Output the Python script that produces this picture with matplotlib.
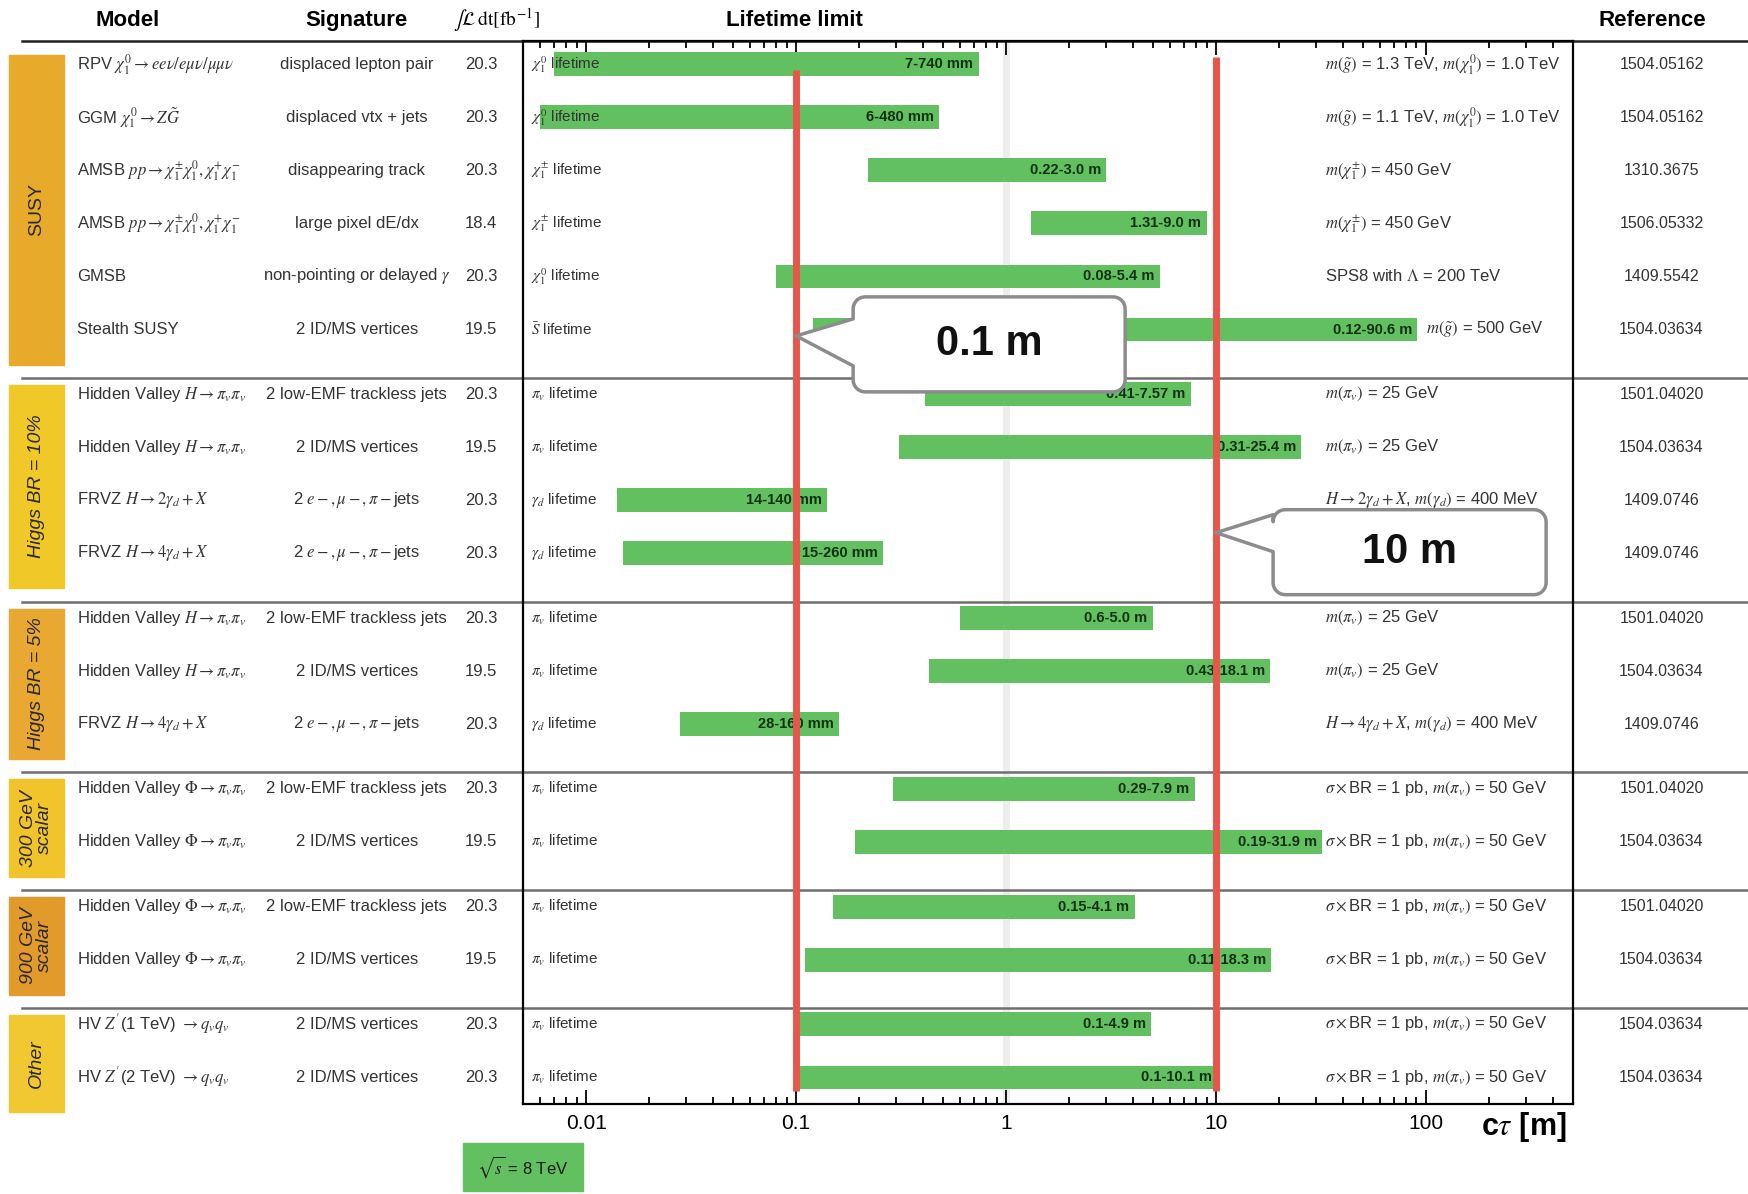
import numpy as np
import matplotlib
matplotlib.use("Agg")
import matplotlib.pyplot as plt
import matplotlib.transforms as mtransforms
from matplotlib.patches import Rectangle, Polygon
from matplotlib.lines import Line2D
from matplotlib.ticker import NullFormatter

plt.rcParams['font.family'] = ['Liberation Sans', 'DejaVu Sans']
plt.rcParams['mathtext.fontset'] = 'stix'

# ---- data ----
groups = ["SUSY", "Higgs BR = 10%", "Higgs BR = 5%", "300 GeV\nscalar", "900 GeV\nscalar", "Other"]
group_sizes = [6, 4, 3, 2, 2, 2]
group_colors = ["#e8aa2a", "#f0c828", "#e8a832", "#f2c42c", "#e29a2a", "#f2c832"]

models = [
    r"RPV $\chi_1^0 \rightarrow ee\nu/e\mu\nu/\mu\mu\nu$",
    r"GGM $\chi_1^0 \rightarrow Z\tilde{G}$",
    r"AMSB $pp \rightarrow \chi_1^{\pm}\chi_1^0, \chi_1^{+}\chi_1^{-}$",
    r"AMSB $pp \rightarrow \chi_1^{\pm}\chi_1^0, \chi_1^{+}\chi_1^{-}$",
    "GMSB",
    "Stealth SUSY",
    r"Hidden Valley $H \rightarrow \pi_v\pi_v$",
    r"Hidden Valley $H \rightarrow \pi_v\pi_v$",
    r"FRVZ $H \rightarrow 2\gamma_d + X$",
    r"FRVZ $H \rightarrow 4\gamma_d + X$",
    r"Hidden Valley $H \rightarrow \pi_v\pi_v$",
    r"Hidden Valley $H \rightarrow \pi_v\pi_v$",
    r"FRVZ $H \rightarrow 4\gamma_d + X$",
    r"Hidden Valley $\Phi \rightarrow \pi_v\pi_v$",
    r"Hidden Valley $\Phi \rightarrow \pi_v\pi_v$",
    r"Hidden Valley $\Phi \rightarrow \pi_v\pi_v$",
    r"Hidden Valley $\Phi \rightarrow \pi_v\pi_v$",
    r"HV $Z^{\prime}$(1 TeV) $\rightarrow q_v q_v$",
    r"HV $Z^{\prime}$(2 TeV) $\rightarrow q_v q_v$",
]
signatures = [
    "displaced lepton pair", "displaced vtx + jets", "disappearing track",
    "large pixel dE/dx", r"non-pointing or delayed $\gamma$", "2 ID/MS vertices",
    "2 low-EMF trackless jets", "2 ID/MS vertices",
    r"2 $e-,\mu-,\pi-$jets", r"2 $e-,\mu-,\pi-$jets",
    "2 low-EMF trackless jets", "2 ID/MS vertices", r"2 $e-,\mu-,\pi-$jets",
    "2 low-EMF trackless jets", "2 ID/MS vertices",
    "2 low-EMF trackless jets", "2 ID/MS vertices",
    "2 ID/MS vertices", "2 ID/MS vertices",
]
lumi = ["20.3", "20.3", "20.3", "18.4", "20.3", "19.5",
        "20.3", "19.5", "20.3", "20.3",
        "20.3", "19.5", "20.3",
        "20.3", "19.5", "20.3", "19.5", "20.3", "20.3"]
particles = [r"$\chi_1^0$", r"$\chi_1^0$", r"$\chi_1^{\pm}$", r"$\chi_1^{\pm}$", r"$\chi_1^0$", r"$\bar{S}$",
             r"$\pi_v$", r"$\pi_v$", r"$\gamma_d$", r"$\gamma_d$",
             r"$\pi_v$", r"$\pi_v$", r"$\gamma_d$",
             r"$\pi_v$", r"$\pi_v$", r"$\pi_v$", r"$\pi_v$", r"$\pi_v$", r"$\pi_v$"]
ctau_lo = [0.007, 0.006, 0.22, 1.31, 0.08, 0.12,
           0.41, 0.31, 0.014, 0.015,
           0.6, 0.43, 0.028,
           0.29, 0.19, 0.15, 0.11, 0.1, 0.1]
ctau_hi = [0.74, 0.48, 3.0, 9.0, 5.4, 90.6,
           7.57, 25.4, 0.14, 0.26,
           5.0, 18.1, 0.16,
           7.9, 31.9, 4.1, 18.3, 4.9, 10.1]
range_labels = ["7-740 mm", "6-480 mm", "0.22-3.0 m", "1.31-9.0 m", "0.08-5.4 m", "0.12-90.6 m",
                "0.41-7.57 m", "0.31-25.4 m", "14-140 mm", "15-260 mm",
                "0.6-5.0 m", "0.43-18.1 m", "28-160 mm",
                "0.29-7.9 m", "0.19-31.9 m", "0.15-4.1 m", "0.11-18.3 m", "0.1-4.9 m", "0.1-10.1 m"]
sxbr = r"$\sigma\times$BR = 1 pb, $m(\pi_v)$ = 50 GeV"
conditions = [
    r"$m(\tilde{g})$ = 1.3 TeV, $m(\chi_1^0)$ = 1.0 TeV",
    r"$m(\tilde{g})$ = 1.1 TeV, $m(\chi_1^0)$ = 1.0 TeV",
    r"$m(\chi_1^{\pm})$ = 450 GeV",
    r"$m(\chi_1^{\pm})$ = 450 GeV",
    r"SPS8 with $\Lambda$ = 200 TeV",
    r"$m(\tilde{g})$ = 500 GeV",
    r"$m(\pi_v)$ = 25 GeV", r"$m(\pi_v)$ = 25 GeV",
    r"$H \rightarrow 2\gamma_d + X$, $m(\gamma_d)$ = 400 MeV",
    r"$H \rightarrow 4\gamma_d + X$, $m(\gamma_d)$ = 400 MeV",
    r"$m(\pi_v)$ = 25 GeV", r"$m(\pi_v)$ = 25 GeV",
    r"$H \rightarrow 4\gamma_d + X$, $m(\gamma_d)$ = 400 MeV",
    sxbr, sxbr, sxbr, sxbr, sxbr, sxbr,
]
references = ["1504.05162", "1504.05162", "1310.3675", "1506.05332", "1409.5542", "1504.03634",
              "1501.04020", "1504.03634", "1409.0746", "1409.0746",
              "1501.04020", "1504.03634", "1409.0746",
              "1501.04020", "1504.03634", "1501.04020", "1504.03634", "1504.03634", "1504.03634"]
ref_lines = [0.1, 10]
xticks = [0.01, 0.1, 1, 10, 100]
xtick_labels = ["0.01", "0.1", "1", "10", "100"]

GREEN = "#62c060"
RED = "#e8554a"
TXT = "#333333"

# row positions: unit spacing inside a group, wider gap between groups
ypos = []
first_rows, last_rows = [], []
pos = 0.0
for n in group_sizes:
    first_rows.append(pos)
    for k in range(n):
        ypos.append(pos + k)
    last_rows.append(pos + n - 1)
    pos += n - 1 + 1.22
ypos = np.array(ypos)

fig = plt.figure(figsize=(17.49, 11.94), dpi=100)
ax = fig.add_axes([0.299, 0.0754, 0.6003, 0.8903])
ax.set_xscale('log')
ax.set_xlim(0.005, 500)
ax.set_ylim(19.6, -0.44)
ax.set_yticks([])

fig_y = mtransforms.blended_transform_factory(fig.transFigure, ax.transData)
axes_y = mtransforms.blended_transform_factory(ax.transAxes, ax.transData)

ax.axvline(1, color="#ededed", lw=5, zorder=0.5)

lo = np.array(ctau_lo)
hi = np.array(ctau_hi)
ax.barh(ypos, hi - lo, left=lo, height=0.45, color=GREEN, zorder=2)

for i, y in enumerate(ypos):
    ax.text(hi[i] / 1.06, y, range_labels[i], ha='right', va='center', fontsize=10.5,
            fontweight='bold', color="#123012", zorder=3)
    ax.text(0.0075, y, particles[i] + " lifetime", transform=axes_y, ha='left', va='center',
            fontsize=11, color=TXT, zorder=4)
    cx = 33 if hi[i] < 33 else hi[i] * 1.1
    ax.text(cx, y, conditions[i], ha='left', va='center', fontsize=12, color=TXT, zorder=4)
    ax.text(0.044, y, models[i], transform=fig_y, ha='left', va='center', fontsize=12,
            color=TXT, clip_on=False)
    ax.text(0.204, y, signatures[i], transform=fig_y, ha='center', va='center', fontsize=12,
            color=TXT, clip_on=False)
    ax.text(0.275, y, lumi[i], transform=fig_y, ha='center', va='center', fontsize=12,
            color=TXT, clip_on=False)
    ax.text(0.950, y, references[i], transform=fig_y, ha='center', va='center', fontsize=11.5,
            color=TXT, clip_on=False)

# group boxes and separators
for gi, name in enumerate(groups):
    y0 = first_rows[gi] - 0.18
    y1 = last_rows[gi] + 0.66
    ax.add_patch(Rectangle((0.0051, y0), 0.0313, y1 - y0, transform=fig_y,
                           color=group_colors[gi], clip_on=False, zorder=1))
    ax.text(0.0208, (y0 + y1) / 2, name, transform=fig_y, rotation=90, ha='center', va='center',
            fontsize=14, style='normal' if gi == 0 else 'italic', color="#2a2a2a",
            linespacing=0.95, clip_on=False, zorder=2)
    if gi > 0:
        ys = first_rows[gi] - 0.31
        ax.add_line(Line2D([0.0126, 1.0], [ys, ys], transform=fig_y, color="#6e6e6e",
                           lw=1.8, clip_on=False, zorder=1.5))
ax.add_line(Line2D([0.0126, 1.0], [-0.44, -0.44], transform=fig_y, color="#222222",
                   lw=1.8, clip_on=False, zorder=1.5))

ax.vlines(ref_lines, [0.1, -0.13], 19.35, colors=RED, lw=5, zorder=5)

ax.set_xticks(xticks)
ax.set_xticklabels(xtick_labels)
ax.xaxis.set_minor_formatter(NullFormatter())
ax.tick_params(axis='x', which='both', direction='in', top=True, bottom=True, width=1.3)
ax.tick_params(axis='x', which='major', length=10, labelsize=15, pad=7)
ax.tick_params(axis='x', which='minor', length=5)
for sp in ax.spines.values():
    sp.set_linewidth(1.6)
ax.set_xlabel(r"c$\tau$ [m]", fontsize=22, fontweight='bold')
ax.xaxis.set_label_coords(0.953, -0.006)

# header row
fig.text(0.073, 0.983, "Model", ha='center', va='center', fontsize=16, fontweight='bold')
fig.text(0.204, 0.983, "Signature", ha='center', va='center', fontsize=16, fontweight='bold')
fig.text(0.284, 0.983, r"$\int\mathcal{L}\,\mathrm{dt}[\mathrm{fb}^{-1}]$", ha='center',
         va='center', fontsize=14)
fig.text(0.454, 0.983, "Lifetime limit", ha='center', va='center', fontsize=16, fontweight='bold')
fig.text(0.945, 0.983, "Reference", ha='center', va='center', fontsize=16, fontweight='bold')

# sqrt(s) tag
fig.add_artist(Rectangle((0.2647, 0.0025), 0.0686, 0.0402, transform=fig.transFigure,
                         color=GREEN, zorder=3))
fig.text(0.299, 0.0226, r"$\sqrt{s}$ = 8 TeV", ha='center', va='center', fontsize=12,
         color="#1a1a1a", zorder=4)


# speech-bubble callouts pointing at the reference lines
def bubble(tip, left, right, top, bottom, t0, t1, label, r=12):
    tx, ty = ax.transData.transform(tip)
    W, H = fig.bbox.width, fig.bbox.height
    Y = lambda v: ty - v
    x0, x1 = tx + left, tx + right
    pts = [(tx, ty), (x0, Y(t0))]

    def arc(cx, cy, a0, a1):
        for a in np.linspace(np.radians(a0), np.radians(a1), 8):
            pts.append((cx + r * np.cos(a), cy + r * np.sin(a)))

    arc(x0 + r, Y(top) - r, 180, 90)
    arc(x1 - r, Y(top) - r, 90, 0)
    arc(x1 - r, Y(bottom) + r, 0, -90)
    arc(x0 + r, Y(bottom) + r, -90, -180)
    pts.append((x0, Y(t1)))
    pts = np.array(pts) / [W, H]
    fig.add_artist(Polygon(pts, closed=True, transform=fig.transFigure, fc='white',
                           ec="#8c8c8c", lw=2.5, joinstyle='round', zorder=10))
    fig.text((x0 + x1) / 2 / W, (Y(top) + Y(bottom)) / 2 / H, label, ha='center', va='center',
             fontsize=30, fontweight='bold', color="#111111", zorder=11)


bubble((ref_lines[0], ypos[5] + 0.12), 57, 329, -39, 56, -17, 30, "0.1 m")
bubble((ref_lines[1], ypos[9] - 0.39), 57, 330, -23, 62, -18, 19, "10 m")

fig.savefig("out.png", dpi=100)
